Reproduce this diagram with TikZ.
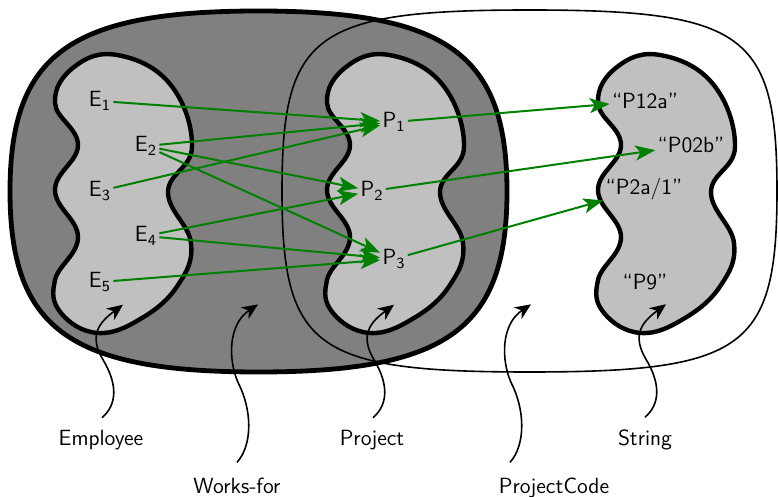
\documentclass[tikz,border=0pt]{standalone}
\usetikzlibrary{arrows.meta,calc}
\definecolor{wfgray}{RGB}{128,128,128}
\definecolor{setgray}{RGB}{192,192,192}
\definecolor{mapgreen}{RGB}{0,128,0}
\tikzset{
  elem/.style={font=\fontsize{11}{13}\sffamily, inner sep=1pt},
  setlabel/.style={font=\fontsize{11}{13}\sffamily, inner sep=0pt, anchor=base},
  mapsto/.style={draw=mapgreen, line width=1pt, -{Stealth[length=10pt,width=7.5pt,inset=2.5pt]}},
  pointer/.style={draw=black, line width=0.8pt, -{Stealth[length=8pt,width=7pt,inset=2.5pt]}},
  setblob/.style={fill=setgray, draw=black, line width=2.2pt},
  relblob/.style={fill=wfgray, draw=black, line width=2.4pt},
  codeblob/.style={draw=black, line width=0.8pt},
}
\newcommand{\shortptr}[3]{%
  \coordinate (#1-s) at ([xshift=#2*0.5pt,yshift=#3]#1.north);
  \draw[pointer] (#1-s) .. controls ($(#1-s)+(15,-13)$) and ($(#1-s)+(16,-33)$) .. ($(#1-s)+(1,-58)$)
    .. controls ($(#1-s)+(-14,-83)$) and ($(#1-s)+(-2,-96)$) .. ($(#1-s)+(21,-113)$);}
\newcommand{\longptr}[3]{%
  \coordinate (#1-s) at ([xshift=#2*0.5pt,yshift=#3]#1.north);
  \draw[pointer] (#1-s) .. controls ($(#1-s)+(16,-18)$) and ($(#1-s)+(15,-53)$) .. ($(#1-s)+(1,-80)$)
    .. controls ($(#1-s)+(-9,-103)$) and ($(#1-s)+(-9,-138)$) .. ($(#1-s)+(21,-158)$);}
\begin{document}
\begin{tikzpicture}[x=0.5pt,y=-0.5pt]
\useasboundingbox (0,0) rectangle (778,497);
% Works-for relation
\path[relblob] (258.5,11) .. controls (447.4,11) and (507,54.3) .. (507,191.5)
  .. controls (507,328.7) and (447.4,372) .. (258.5,372)
  .. controls (69.6,372) and (10,328.7) .. (10,191.5)
  .. controls (10,54.3) and (69.6,11) .. (258.5,11) -- cycle;
% ProjectCode relation
\path[codeblob] (529.5,10) .. controls (744.8,10) and (777,33.5) .. (777,191)
  .. controls (777,348.5) and (744.8,372) .. (529.5,372)
  .. controls (314.2,372) and (282,348.5) .. (282,191)
  .. controls (282,33.5) and (314.2,10) .. (529.5,10) -- cycle;
% sets
\foreach \dx in {0,272,543}{
  \begin{scope}[shift={(\dx,0)}]
  \path[setblob] plot[smooth cycle, tension=0.7] coordinates {(117,55) (170,84) (192,147) (168,192) (191,243) (178,285) (142,318) (98,333) (61,313) (55,280) (78,237) (55,190) (78,145) (55,103) (74,67)};
  \end{scope}
}
% elements
\node[elem] (E1) at (100,101) {E\textsubscript{1}};
\node[elem] (E2) at (146,146) {E\textsubscript{2}};
\node[elem] (E3) at (100,191) {E\textsubscript{3}};
\node[elem] (E4) at (146,236) {E\textsubscript{4}};
\node[elem] (E5) at (100,282) {E\textsubscript{5}};
\node[elem] (P1) at (394,122) {P\textsubscript{1}};
\node[elem] (P2) at (372,191) {P\textsubscript{2}};
\node[elem] (P3) at (394,259) {P\textsubscript{3}};
\node[elem] (S1) at (645,101) {“P12a”};
\node[elem] (S2) at (691,145) {“P02b”};
\node[elem] (S3) at (644,189) {“P2a/1”};
\node[elem] (S4) at (645,282) {“P9”};
% mappings
\draw[mapsto] (E1) -- (P1);
\draw[mapsto] (E2) -- (P1);
\draw[mapsto] (E2) -- (P2);
\draw[mapsto] (E2) -- (P3);
\draw[mapsto] (E3) -- (P1);
\draw[mapsto] (E4) -- (P2);
\draw[mapsto] (E4) -- (P3);
\draw[mapsto] (E5) -- (P3);
\draw[mapsto] (P1) -- (S1);
\draw[mapsto] (P2) -- (S2);
\draw[mapsto] (P3) -- (S3);
% labels
\node[setlabel] (Employee) at (101,446) {Employee};
\node[setlabel] (Project) at (372,446) {Project};
\node[setlabel] (String) at (645,446) {String};
\node[setlabel] (Worksfor) at (237,493.5) {Works-for};
\node[setlabel] (ProjectCode) at (554,493.5) {ProjectCode};
\shortptr{Employee}{1}{6.3pt}
\shortptr{Project}{1}{6.3pt}
\shortptr{String}{0}{6.3pt}
\longptr{Worksfor}{0}{7.6pt}
\longptr{ProjectCode}{-44}{7.6pt}
\end{tikzpicture}
\end{document}
